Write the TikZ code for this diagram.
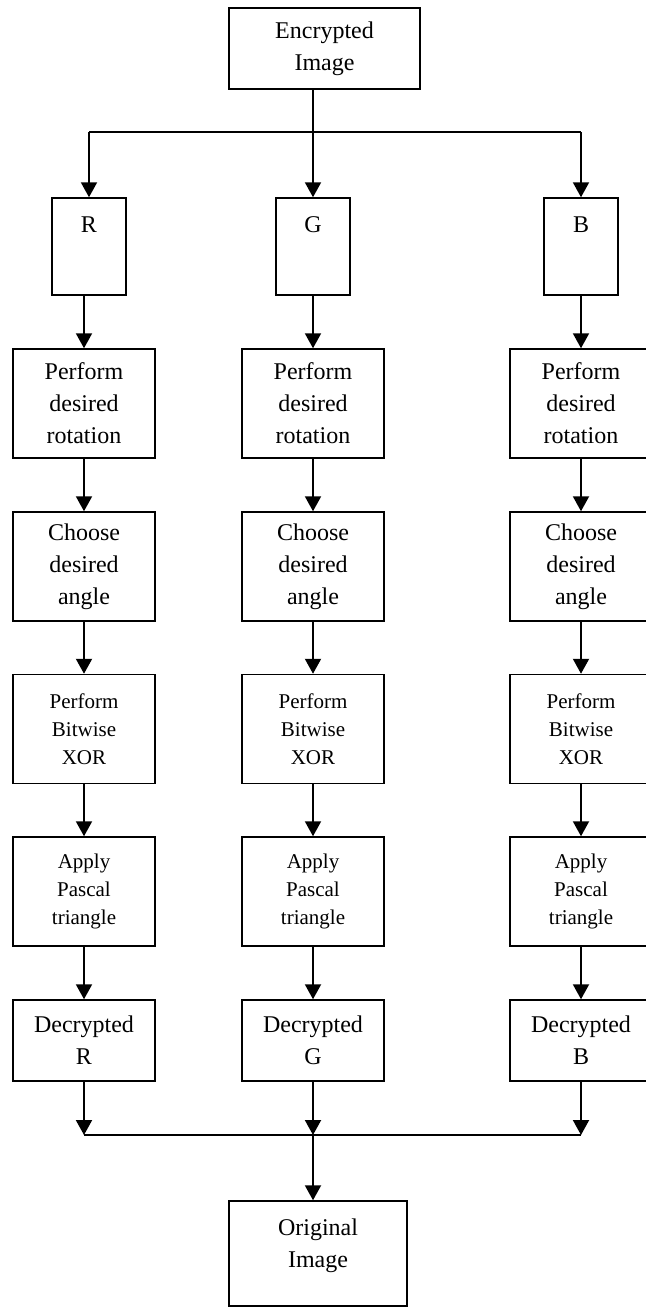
\documentclass[tikz,border=0pt]{standalone}
\usepackage{fontspec}
\setmainfont{Liberation Serif}
\usetikzlibrary{arrows.meta}

\tikzset{
  stepbox/.style={draw, line width=0.75pt, minimum width=71pt, minimum height=54.5pt,
    inner sep=1pt, align=center},
  smallstep/.style={stepbox, font=\fontsize{10.5}{14}\selectfont},
  chanbox/.style={draw, line width=0.75pt, minimum width=37pt, minimum height=48.5pt,
    label={[anchor=north, yshift=-6pt, align=center]north:#1}},
  flow/.style={-{Triangle[length=7.5pt,width=8pt]}, line width=1pt},
  bus/.style={line width=0.75pt},
}

\begin{document}
\begin{tikzpicture}[x=0.5pt, y=-0.5pt, font=\fontsize{12}{16}\selectfont]
    \useasboundingbox (0,0) rectangle (646,1307);

    % Input image
    \node[stepbox, minimum width=95.5pt, minimum height=40.5pt] (enc) at (324.5,48.5) {Encrypted\\Image};

    % Colour channels
    \node[chanbox=R] (r) at (89,246.5) {};
    \node[chanbox=G] (g) at (313,246.5) {};
    \node[chanbox=B] (b) at (581,246.5) {};

    % Rotation
    \node[stepbox] (rotR) at (84,403.5) {Perform\\desired\\rotation};
    \node[stepbox] (rotG) at (313,403.5) {Perform\\desired\\rotation};
    \node[stepbox] (rotB) at (581,403.5) {Perform\\desired\\rotation};

    % Angle
    \node[stepbox] (angR) at (84,566.5) {Choose\\desired\\angle};
    \node[stepbox] (angG) at (313,566.5) {Choose\\desired\\angle};
    \node[stepbox] (angB) at (581,566.5) {Choose\\desired\\angle};

    % XOR
    \node[smallstep] (xorR) at (84,729) {Perform\\Bitwise\\XOR};
    \node[smallstep] (xorG) at (313,729) {Perform\\Bitwise\\XOR};
    \node[smallstep] (xorB) at (581,729) {Perform\\Bitwise\\XOR};

    % Pascal triangle
    \node[smallstep] (pasR) at (84,891.5) {Apply\\Pascal\\triangle};
    \node[smallstep] (pasG) at (313,891.5) {Apply\\Pascal\\triangle};
    \node[smallstep] (pasB) at (581,891.5) {Apply\\Pascal\\triangle};

    % Decrypted channels
    \node[stepbox, minimum height=40.5pt] (decR) at (84,1040.5) {Decrypted\\R};
    \node[stepbox, minimum height=40.5pt] (decG) at (313,1040.5) {Decrypted\\G};
    \node[stepbox, minimum height=40.5pt] (decB) at (581,1040.5) {Decrypted\\B};

    % Output image
    \node[draw, line width=0.75pt, minimum width=89pt, minimum height=52.5pt,
      label={[anchor=north, yshift=-6pt, align=center]north:Original\\Image}] (orig) at (318,1253.5) {};

    % Split into channels
    \coordinate (splitR) at (89,132);
    \coordinate (splitB) at (581,132);
    \draw[bus] (splitR) -- (splitB);
    \draw[flow] (enc.south -| g.north) -- (g.north);
    \draw[flow] (splitR) -- (r);
    \draw[flow] (splitB) -- (b);

    % Steps, column by column
    \draw[flow] (rotR.north |- r.south) -- (rotR);
    \draw[flow] (rotR) -- (angR);
    \draw[flow] (angR) -- (xorR);
    \draw[flow] (xorR) -- (pasR);
    \draw[flow] (pasR) -- (decR);

    \draw[flow] (g) -- (rotG);
    \draw[flow] (rotG) -- (angG);
    \draw[flow] (angG) -- (xorG);
    \draw[flow] (xorG) -- (pasG);
    \draw[flow] (pasG) -- (decG);

    \draw[flow] (b) -- (rotB);
    \draw[flow] (rotB) -- (angB);
    \draw[flow] (angB) -- (xorB);
    \draw[flow] (xorB) -- (pasB);
    \draw[flow] (pasB) -- (decB);

    % Merge channels
    \coordinate (joinR) at (84,1135);
    \coordinate (joinG) at (313,1135);
    \coordinate (joinB) at (581,1135);
    \draw[bus] (joinR) -- (joinB);
    \draw[flow] (decR) -- (joinR);
    \draw[flow] (decG) -- (joinG);
    \draw[flow] (decB) -- (joinB);
    \draw[flow] (joinG) -- (joinG |- orig.north);
\end{tikzpicture}
\end{document}
